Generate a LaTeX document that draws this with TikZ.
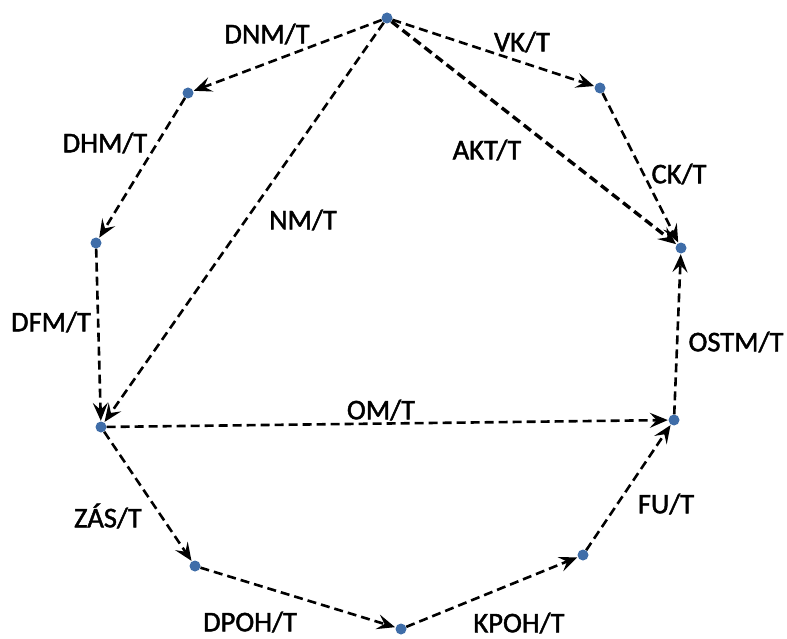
\documentclass[tikz,border=0pt]{standalone}
\usepackage{fontspec}
\setmainfont{Carlito}[FakeBold=1.6]
\usetikzlibrary{arrows.meta}
\begin{document}
\begin{tikzpicture}[x=1pt,y=-1pt,
  dot/.style={circle,fill=dotblue,inner sep=0pt,minimum size=11pt},
  edge/.style={draw=black,line width=2.6pt,dash pattern=on 9pt off 5pt,-{Stealth[length=18pt,width=15pt,inset=7pt]},shorten >=0.5pt},
  thick edge/.style={edge,line width=3.4pt},
  lbl/.style={font=\fontsize{28.5}{32}\selectfont,inner sep=0pt}]
\definecolor{dotblue}{HTML}{3F6DA8}
\useasboundingbox (0,0) rectangle (787,639);
\node[dot] (A) at (387,18) {};
\node[dot] (B) at (600,88) {};
\node[dot] (C) at (681,248) {};
\node[dot] (D) at (188,93) {};
\node[dot] (E) at (96,243) {};
\node[dot] (F) at (101,427) {};
\node[dot] (G) at (674,420) {};
\node[dot] (H) at (195,566) {};
\node[dot] (I) at (401,629) {};
\node[dot] (J) at (583,555) {};
\draw[edge] (A) -- (D);
\draw[edge] (A) -- (B);
\draw[edge] (B) -- (C);
\draw[thick edge] (A) -- (C);
\draw[edge] (A) -- (F);
\draw[edge] (D) -- (E);
\draw[edge] (E) -- (F);
\draw[edge] (F) -- (G);
\draw[edge] (G) -- (C);
\draw[edge] (F) -- (H);
\draw[edge] (H) -- (I);
\draw[edge] (I) -- (J);
\draw[edge] (J) -- (G);
\node[lbl] (l1) at (267,34) {DNM/T};
\node[lbl] (l2) at (522,42) {VK/T};
\node[lbl] (l3) at (105,143) {DHM/T};
\node[lbl] (l4) at (487,150) {AKT/T};
\node[lbl] (l5) at (679,174) {CK/T};
\node[lbl] (l6) at (303,220) {NM/T};
\node[lbl] (l7) at (51,322) {DFM/T};
\node[lbl] (l8) at (736,342) {OSTM/T};
\node[lbl] (l9) at (381,410) {OM/T};
\node[lbl] (l10) at (108,516) {ZÁS/T};
\node[lbl] (l11) at (666,504) {FU/T};
\node[lbl] (l12) at (250,622) {DPOH/T};
\node[lbl] (l13) at (519,623) {KPOH/T};
\end{tikzpicture}
\end{document}
